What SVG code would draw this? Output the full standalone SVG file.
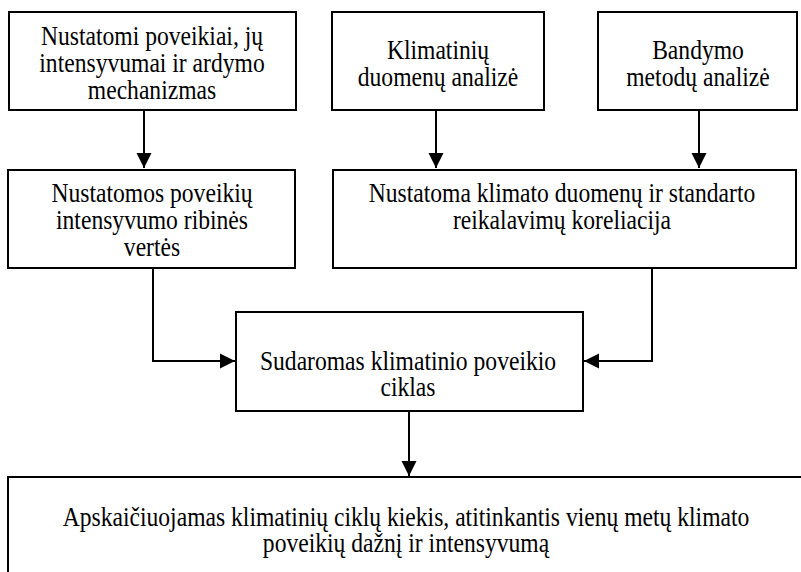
<svg xmlns="http://www.w3.org/2000/svg" width="801" height="572" viewBox="0 0 801 572">
  <style>
    .box { fill: #ffffff; stroke: #000000; stroke-width: 2; }
    .lbl { font-family: "Liberation Serif", "Times New Roman", serif; font-size: 23.6px; fill: #000000; text-anchor: middle; }
    .wire { fill: none; stroke: #000000; stroke-width: 2; }
  </style>
  <defs>
    <marker id="head" markerUnits="userSpaceOnUse" markerWidth="16" markerHeight="16" refX="15" refY="8" orient="auto">
      <path d="M0,0.5 L15,8 L0,15.5 z" fill="#000000"/>
    </marker>
  </defs>
  <rect x="0" y="0" width="801" height="572" fill="#ffffff"/>

  <!-- connectors -->
  <g id="connectors">
    <path class="wire" d="M144,110 V168" marker-end="url(#head)"/>
    <path class="wire" d="M436,110 V168" marker-end="url(#head)"/>
    <path class="wire" d="M699,110 V168" marker-end="url(#head)"/>
    <path class="wire" d="M153,268 V361 H235" marker-end="url(#head)"/>
    <path class="wire" d="M652,268 V361 H584" marker-end="url(#head)"/>
    <path class="wire" d="M409,411 V476" marker-end="url(#head)"/>
  </g>

  <!-- labels are drawn slightly taller than wide (scale 1 x 1.13) -->
  <g id="n-poveikiai">
    <rect class="box" x="9" y="12" width="287" height="98"/>
    <text class="lbl" transform="translate(152,45) scale(1,1.13)">Nustatomi poveikiai, jų</text>
    <text class="lbl" transform="translate(152,72) scale(1,1.13)">intensyvumai ir ardymo</text>
    <text class="lbl" transform="translate(152,99) scale(1,1.13)">mechanizmas</text>
  </g>

  <g id="n-klimatiniu">
    <rect class="box" x="332" y="12" width="212" height="98"/>
    <text class="lbl" transform="translate(438,59) scale(1,1.13)">Klimatinių</text>
    <text class="lbl" transform="translate(438,86) scale(1,1.13)">duomenų analizė</text>
  </g>

  <g id="n-bandymo">
    <rect class="box" x="598" y="12" width="199" height="98"/>
    <text class="lbl" transform="translate(698,59) scale(1,1.13)">Bandymo</text>
    <text class="lbl" transform="translate(698,86) scale(1,1.13)">metodų analizė</text>
  </g>

  <g id="n-ribines">
    <rect class="box" x="8" y="170" width="287" height="98"/>
    <text class="lbl" transform="translate(152,202) scale(1,1.13)">Nustatomos poveikių</text>
    <text class="lbl" transform="translate(152,229) scale(1,1.13)">intensyvumo ribinės</text>
    <text class="lbl" transform="translate(152,256) scale(1,1.13)">vertės</text>
  </g>

  <g id="n-koreliacija">
    <rect class="box" x="333" y="170" width="463" height="98"/>
    <text class="lbl" transform="translate(562,202) scale(1,1.13)">Nustatoma klimato duomenų ir standarto</text>
    <text class="lbl" transform="translate(562,229) scale(1,1.13)">reikalavimų koreliacija</text>
  </g>

  <g id="n-ciklas">
    <rect class="box" x="236" y="312" width="347" height="99"/>
    <text class="lbl" transform="translate(408,370) scale(1,1.13)">Sudaromas klimatinio poveikio</text>
    <text class="lbl" transform="translate(408,396) scale(1,1.13)">ciklas</text>
  </g>

  <g id="n-kiekis">
    <rect class="box" x="8" y="477" width="800" height="110"/>
    <text class="lbl" transform="translate(406,526) scale(1,1.13)">Apskaičiuojamas klimatinių ciklų kiekis, atitinkantis vienų metų klimato</text>
    <text class="lbl" transform="translate(406,552) scale(1,1.13)">poveikių dažnį ir intensyvumą</text>
  </g>
</svg>
